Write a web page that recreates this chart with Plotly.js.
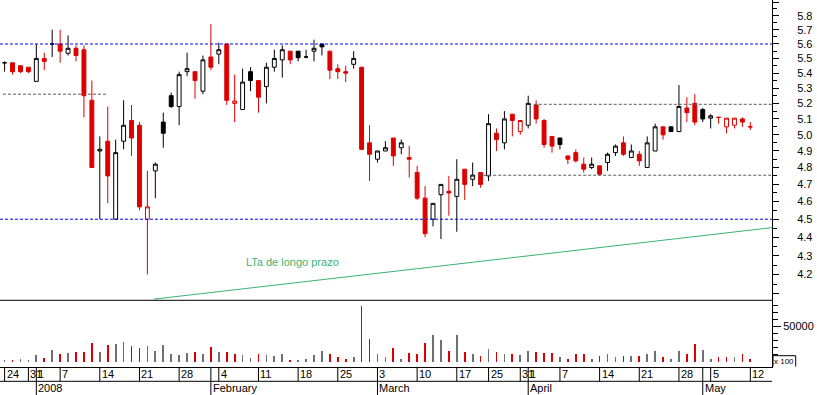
<!DOCTYPE html>
<html><head><meta charset="utf-8">
<script src="https://cdn.plot.ly/plotly-3.0.1.min.js"></script>
<style>html,body{margin:0;padding:0;background:#fff;}#chart{width:817px;height:395px;}</style>
</head><body><div id="chart"></div>
<script>
// ---- data ----
const dates = ['2007-12-24','2007-12-27','2007-12-28','2007-12-31',
'2008-01-02','2008-01-03','2008-01-04','2008-01-07','2008-01-08','2008-01-09','2008-01-10','2008-01-11','2008-01-14','2008-01-15','2008-01-16','2008-01-17','2008-01-18','2008-01-21','2008-01-22','2008-01-23','2008-01-24','2008-01-25','2008-01-28','2008-01-29','2008-01-30','2008-01-31',
'2008-02-01','2008-02-04','2008-02-05','2008-02-06','2008-02-07','2008-02-08','2008-02-11','2008-02-12','2008-02-13','2008-02-14','2008-02-15','2008-02-18','2008-02-19','2008-02-20','2008-02-21','2008-02-22','2008-02-25','2008-02-26','2008-02-27','2008-02-28','2008-02-29',
'2008-03-03','2008-03-04','2008-03-05','2008-03-06','2008-03-07','2008-03-10','2008-03-11','2008-03-12','2008-03-13','2008-03-14','2008-03-17','2008-03-18','2008-03-19','2008-03-20','2008-03-25','2008-03-26','2008-03-27','2008-03-28','2008-03-31',
'2008-04-01','2008-04-02','2008-04-03','2008-04-04','2008-04-07','2008-04-08','2008-04-09','2008-04-10','2008-04-11','2008-04-14','2008-04-15','2008-04-16','2008-04-17','2008-04-18','2008-04-21','2008-04-22','2008-04-23','2008-04-24','2008-04-25','2008-04-28','2008-04-29','2008-04-30',
'2008-05-02','2008-05-05','2008-05-06','2008-05-07','2008-05-08','2008-05-09','2008-05-12'];

const open = [5.47,5.47,5.45,5.44,5.345,5.50,5.60,5.60,5.535,5.57,
5.56,5.22,4.90,4.96,4.50,4.96,5.09,5.06,4.50,4.78,
5.08,5.25,5.18,5.41,5.41,5.28,5.51,5.53,5.60,5.20,
5.16,5.41,5.35,5.31,5.44,5.49,5.55,5.55,5.51,5.55,
5.60,5.55,5.43,5.41,5.46,5.44,4.95,4.85,4.90,4.98,
4.92,4.86,4.77,4.62,4.50,4.64,4.66,4.63,4.79,4.73,
4.77,4.75,5.01,4.95,5.13,5.02,5.06,5.19,5.09,4.99,
4.98,4.87,4.89,4.82,4.80,4.81,4.83,4.89,4.95,4.86,
4.88,4.80,4.90,5.05,5.05,5.02,5.17,5.20,5.16,5.105,
5.11,5.05,5.06,5.10,5.05];
const high = [5.48,5.47,5.45,5.44,5.60,5.54,5.70,5.70,5.66,5.59,
5.59,5.35,4.99,5.18,4.97,5.22,5.19,5.08,4.78,4.83,
5.14,5.27,5.41,5.54,5.41,5.52,5.74,5.61,5.60,5.39,
5.43,5.44,5.35,5.47,5.56,5.59,5.55,5.55,5.56,5.63,
5.60,5.55,5.46,5.45,5.55,5.44,5.06,4.90,4.96,4.98,
4.97,4.93,4.81,4.69,4.59,4.70,4.75,4.85,4.79,4.83,
4.77,5.13,5.04,5.15,5.13,5.09,5.25,5.22,5.10,4.99,
4.98,4.87,4.91,4.86,4.86,4.81,4.89,4.94,4.99,4.94,
4.90,4.99,5.07,5.05,5.05,5.32,5.24,5.26,5.17,5.13,
5.11,5.105,5.105,5.11,5.08];
const low = [5.41,5.39,5.40,5.40,5.345,5.42,5.51,5.47,5.52,5.48,
5.11,4.80,4.50,4.59,4.50,4.91,4.87,4.55,4.20,4.62,
4.92,5.17,5.06,5.38,5.23,5.26,5.42,5.46,5.19,5.08,
5.16,5.28,5.14,5.20,5.41,5.37,5.46,5.48,5.50,5.48,
5.52,5.36,5.36,5.34,5.43,4.91,4.72,4.83,4.90,4.81,
4.88,4.74,4.61,4.40,4.46,4.39,4.52,4.43,4.61,4.69,
4.68,4.72,4.90,4.91,4.99,5.00,5.04,5.07,4.92,4.89,
4.91,4.82,4.83,4.77,4.79,4.75,4.78,4.87,4.87,4.86,
4.81,4.80,4.90,4.97,5.02,5.02,5.08,5.06,5.08,5.04,
5.07,5.01,5.04,5.05,5.03];
const close = [5.47,5.41,5.41,5.41,5.50,5.48,5.60,5.55,5.57,5.52,
5.25,4.80,4.91,4.75,4.89,5.06,4.98,4.57,4.57,4.82,
5.01,5.18,5.39,5.43,5.35,5.49,5.44,5.56,5.22,5.215,
5.34,5.35,5.24,5.44,5.50,5.56,5.49,5.505,5.51,5.57,
5.58,5.42,5.41,5.40,5.50,4.91,4.88,4.90,4.92,4.87,
4.95,4.85,4.62,4.42,4.59,4.70,4.65,4.73,4.70,4.755,
4.70,5.07,4.97,5.10,5.09,5.09,5.20,5.10,4.94,4.93,
4.94,4.85,4.84,4.79,4.82,4.76,4.88,4.93,4.88,4.90,
4.84,4.95,5.05,5.00,5.02,5.18,5.14,5.08,5.10,5.12,
5.11,5.105,5.105,5.08,5.05];
// volume in units of 100
const volume = [2400,2400,3800,2400,10200,6000,17200,11600,13000,14400,
14400,27000,14400,24200,25600,28400,22800,20000,22800,15800,
24200,11600,10200,13000,14400,11600,21400,14400,14400,11600,
10200,4600,11600,9800,8400,10500,2100,2800,3500,9800,
15400,11200,6300,3500,7000,79600,32800,10500,6300,19600,
4200,11900,11200,26500,37700,31400,14700,37700,14000,10500,
7700,18200,14000,10500,10500,9100,15400,13300,11900,12600,
7000,3500,11200,11200,4200,8400,10500,6300,8400,8400,
7700,11200,15400,6300,3500,14700,10500,25100,16800,4200,
6300,7000,7000,11200,3500];

const dayTickDates = ['2007-12-24','2007-12-31','2008-01-02','2008-01-07','2008-01-14','2008-01-21','2008-01-28','2008-02-01','2008-02-04','2008-02-11','2008-02-18','2008-02-25','2008-03-03','2008-03-10','2008-03-17','2008-03-25','2008-03-31','2008-04-01','2008-04-07','2008-04-14','2008-04-21','2008-04-28','2008-05-02','2008-05-05','2008-05-12'];
const dayTickLabels = ['24','31','1','7','14','21','28','','4','11','18','25','3','10','17','25','31','1','7','14','21','28','','5','12'];
const monthTickDates = ['2008-01-02','2008-02-01','2008-03-03','2008-04-01','2008-05-02'];
const monthTickLabels = ['2008','February','March','April','May'];

const priceTicks = [4.1,4.2,4.3,4.4,4.5,4.6,4.7,4.8,4.9,5.0,5.1,5.2,5.3,5.4,5.5,5.6,5.7,5.8,5.9];
const priceTickLabels = ['','4.2','4.3','4.4','4.5','4.6','4.7','4.8','4.9','5.0','5.1','5.2','5.3','5.4','5.5','5.6','5.7','5.8',''];
const priceMinorTicks = [4.15,4.25,4.35,4.45,4.55,4.65,4.75,4.85,4.95,5.05,5.15,5.25,5.35,5.45,5.55,5.65,5.75,5.85];
const volTicks = [50000];
const volTickLabels = ['50000'];
const volMinorTicks = [10000,20000,30000,40000,60000,70000,80000];

// horizontal reference levels (blue = full width)
const blueLevels = [5.6, 4.5];
const grayLevels = [5.26, 5.194, 4.754];
const grayStart = [-0.2, 66.7, 59.7];   // in trading-day positions
const grayEnd = [12.9, 96.8, 96.8];
// long-term trend line (LTa)
const trendX = [18.84, 96.73];
const trendY = [4.073, 4.453];
const trendLabel = 'LTa de longo prazo';

// ---- build ----
const xs = dates.map((d, i) => i);
const pos = d => dates.indexOf(d);
const RED = '#dd0000', BLACK = '#000000', VGRAY = '#707070';
const X0 = -0.58, X1 = 96.73;
const H = 367; // plot height in px
const volTop = (H - 300.3) / H;

const candleRed = close.map((c, i) => i > 0 && c <= close[i - 1]);
const volRed = close.map((c, i) => i > 0 && c < close[i - 1]);

function subset(flagFn) {
  const o = {x: [], open: [], high: [], low: [], close: []};
  xs.forEach(i => { if (flagFn(i)) { o.x.push(i); o.open.push(open[i]); o.high.push(high[i]); o.low.push(low[i]); o.close.push(close[i]); } });
  return o;
}
const redSet = subset(i => candleRed[i]);
const blkSet = subset(i => !candleRed[i]);

const traces = [];
blueLevels.forEach(v => traces.push({type: 'scatter', mode: 'lines', x: [X0, X1], y: [v, v], xaxis: 'x', yaxis: 'y',
  line: {color: '#0000ff', width: 1, dash: '3px,2px'}, hoverinfo: 'skip'}));
grayLevels.forEach((v, k) => traces.push({type: 'scatter', mode: 'lines', x: [grayStart[k], grayEnd[k]], y: [v, v], xaxis: 'x', yaxis: 'y',
  line: {color: '#5a5a5a', width: 1, dash: '3px,2px'}, hoverinfo: 'skip'}));
traces.push({type: 'scatter', mode: 'lines', x: trendX, y: trendY, xaxis: 'x', yaxis: 'y',
  line: {color: '#3cb371', width: 1}, hoverinfo: 'skip', cliponaxis: true});
traces.push(Object.assign({type: 'candlestick', xaxis: 'x', yaxis: 'y', whiskerwidth: 0,
  increasing: {line: {color: RED, width: 1}, fillcolor: '#ffffff'},
  decreasing: {line: {color: RED, width: 1}, fillcolor: RED}, hoverinfo: 'skip'}, redSet));
traces.push(Object.assign({type: 'candlestick', xaxis: 'x', yaxis: 'y', whiskerwidth: 0,
  increasing: {line: {color: BLACK, width: 1}, fillcolor: '#ffffff'},
  decreasing: {line: {color: BLACK, width: 1}, fillcolor: BLACK}, hoverinfo: 'skip'}, blkSet));
traces.push({type: 'bar', x: xs, y: volume, xaxis: 'x', yaxis: 'y2', width: 0.22,
  marker: {color: volRed.map(r => r ? RED : VGRAY), line: {width: 0}}, hoverinfo: 'skip'});

const FONT = 'Liberation Sans, Arial, sans-serif';
const shapes = [];
const annotations = [];
// separator between price and volume panels
shapes.push({type: 'line', xref: 'paper', yref: 'paper', x0: 0, x1: 1, y0: volTop, y1: volTop, line: {color: '#000', width: 1}});
// row separator under day labels
const rowMid = -(381.3 - H) / H * -1; // negative paper value
const yRow = (H - 381.3) / H, yBottom = (H - 395) / H;
shapes.push({type: 'line', xref: 'paper', yref: 'paper', x0: 0, x1: 1, y0: yRow, y1: yRow, line: {color: '#000', width: 1}});
dayTickDates.forEach((d, k) => {
  const p = pos(d);
  shapes.push({type: 'line', xref: 'x', yref: 'paper', x0: p, x1: p, y0: 0, y1: yRow, line: {color: '#000', width: 1}});
  if (dayTickLabels[k]) annotations.push({xref: 'x', yref: 'paper', x: p, y: (H - 374.3) / H, xanchor: 'left', yanchor: 'middle',
    text: dayTickLabels[k], showarrow: false, font: {family: FONT, size: 11, color: '#000'}, borderpad: 0, xshift: 1});
});
monthTickDates.forEach((d, k) => {
  const p = pos(d);
  shapes.push({type: 'line', xref: 'x', yref: 'paper', x0: p, x1: p, y0: yRow, y1: yBottom, line: {color: '#000', width: 1}});
  annotations.push({xref: 'x', yref: 'paper', x: p, y: (H - 388.3) / H, xanchor: 'left', yanchor: 'middle',
    text: monthTickLabels[k], showarrow: false, font: {family: FONT, size: 11, color: '#000'}, borderpad: 0, xshift: 1});
});
// "x 100" unit box of the volume axis
const bx0 = 773 / 772, bx1 = 795.7 / 772, by0 = (H - 366.5) / H, by1 = (H - 355.7) / H;
shapes.push({type: 'path', xref: 'paper', yref: 'paper', path: `M ${bx0} ${by0} L ${bx0} ${by1} L ${bx1} ${by1} L ${bx1} ${by0}`, line: {color: '#000', width: 1}});
annotations.push({xref: 'paper', yref: 'paper', x: (bx0 + bx1) / 2, y: (by0 + by1) / 2, xanchor: 'center', yanchor: 'middle',
  text: 'x 100', showarrow: false, font: {family: FONT, size: 8, color: '#000'}, borderpad: 0});
// trend label
annotations.push({xref: 'x', yref: 'y', x: 36.3, y: Math.log10(4.268), xanchor: 'center', yanchor: 'middle',
  text: trendLabel, showarrow: false, font: {family: FONT, size: 11, color: '#3cb371'}});

const layout = {
  width: 817, height: 395,
  margin: {l: 0, r: 45, t: 0, b: 28, pad: 0},
  paper_bgcolor: '#fff', plot_bgcolor: '#fff',
  showlegend: false,
  font: {family: FONT, size: 11, color: '#000'},
  xaxis: {type: 'linear', range: [X0, X1], anchor: 'y2', showgrid: false, zeroline: false, showticklabels: false, ticks: '',
    showline: true, linecolor: '#000', linewidth: 1, rangeslider: {visible: false}, fixedrange: true},
  yaxis: {type: 'log', domain: [volTop, 1], range: [Math.log10(4.067), Math.log10(5.916)], side: 'right', anchor: 'x',
    showline: true, linecolor: '#000', linewidth: 1, showgrid: false, zeroline: false,
    tickmode: 'array', tickvals: priceTicks, ticktext: priceTickLabels, ticks: 'outside', ticklen: 6, tickcolor: '#000', tickwidth: 1,
    ticklabelstandoff: 16, tickfont: {family: FONT, size: 11, color: '#000'},
    minor: {tickmode: 'array', tickvals: priceMinorTicks, ticks: 'outside', ticklen: 4, tickcolor: '#000', tickwidth: 1, showgrid: false},
    fixedrange: true},
  yaxis2: {domain: [0, volTop], range: [-7500, 87400], side: 'right', anchor: 'x',
    showline: true, linecolor: '#000', linewidth: 1, showgrid: false, zeroline: false,
    tickmode: 'array', tickvals: volTicks, ticktext: volTickLabels, ticks: 'outside', ticklen: 8, tickcolor: '#000', tickwidth: 1,
    tickfont: {family: FONT, size: 11, color: '#000'},
    minor: {tickmode: 'array', tickvals: volMinorTicks, ticks: 'outside', ticklen: 5, tickcolor: '#000', tickwidth: 1, showgrid: false},
    fixedrange: true},
  bargap: 0,
  shapes: shapes,
  annotations: annotations
};
Plotly.newPlot('chart', traces, layout, {displayModeBar: false, staticPlot: true});
</script></body></html>
